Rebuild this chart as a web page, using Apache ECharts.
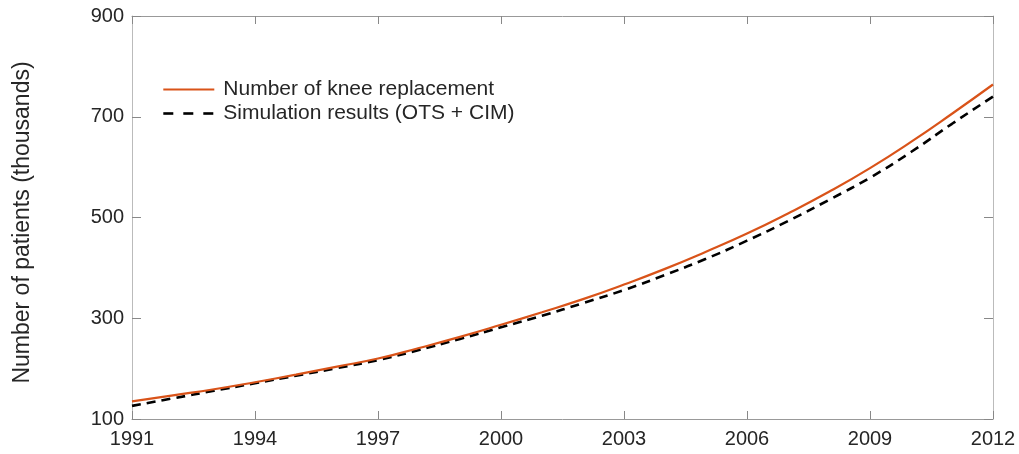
<!DOCTYPE html>
<html>
<head>
<meta charset="utf-8">
<script src="https://cdn.jsdelivr.net/npm/echarts@6/dist/echarts.min.js"></script>
<style>
html,body{margin:0;padding:0;background:#fff;}
#chart{width:1019px;height:454px;}
</style>
</head>
<body>
<div id="chart"></div>
<script>
const years = ['1991','1992','1993','1994','1995','1996','1997','1998','1999','2000','2001','2002','2003','2004','2005','2006','2007','2008','2009','2010','2011','2012'];
const kneeReplacement = [135,147,159,173,188,204,220,241,263,287,312,338,367,398,432,468,508,551,598,650,706,764];
const simulation = [126,141,156,171,186,201,217,237,259,282,305,330,356,386,418,454,493,535,579,630,686,740];
const yTicks = [100,300,500,700,900];
const seriesNames = ['Number of knee replacement','Simulation results (OTS + CIM)'];
const yName = 'Number of patients (thousands)';

const font = 'Liberation Sans, Arial, sans-serif';
const txt = '#262626';
const chart = echarts.init(document.getElementById('chart'));
const hAxisLine = {show:true, lineStyle:{color:'#999', width:1}};
const vAxisLine = {show:true, lineStyle:{color:'#bbb', width:1}};
chart.setOption({
  animation:false,
  backgroundColor:'#fff',
  grid:{left:132, right:26, top:16, bottom:35, containLabel:false},
  legend:{
    orient:'vertical', left:162, top:79, padding:0, itemWidth:51, itemHeight:14, itemGap:3,
    itemStyle:{opacity:0},
    textStyle:{fontFamily:font, fontSize:21, color:txt, padding:[0,0,0,4]},
    data:[
      {name:seriesNames[0]},
      {name:seriesNames[1], lineStyle:{type:[10,10], width:2.6}}
    ]
  },
  xAxis:[{
    type:'category', data:years, boundaryGap:false, position:'bottom',
    axisLine:hAxisLine,
    axisTick:{show:true, inside:true, length:8, interval:2, lineStyle:{color:'#888'}},
    axisLabel:{interval:2, margin:10, fontFamily:font, fontSize:20, color:txt},
    splitLine:{show:false}
  },{
    type:'category', data:years, boundaryGap:false, position:'top',
    axisLine:hAxisLine,
    axisTick:{show:true, inside:true, length:8, interval:2, lineStyle:{color:'#888'}},
    axisLabel:{show:false}, splitLine:{show:false}
  }],
  yAxis:[{
    type:'value', min:100, max:900, position:'left',
    name:yName, nameLocation:'middle', nameGap:98,
    nameTextStyle:{fontFamily:font, fontSize:23, color:txt, padding:[0,10,0,0]},
    axisLine:vAxisLine,
    axisTick:{show:true, inside:true, length:9, customValues:yTicks, lineStyle:{color:'#888'}},
    axisLabel:{customValues:yTicks, margin:8, fontFamily:font, fontSize:20, color:txt},
    splitLine:{show:false}
  },{
    type:'value', min:100, max:900, position:'right',
    axisLine:vAxisLine,
    axisTick:{show:true, inside:true, length:9, customValues:yTicks, lineStyle:{color:'#888'}},
    axisLabel:{show:false}, splitLine:{show:false}
  }],
  series:[{
    name:seriesNames[0], type:'line', data:kneeReplacement, smooth:true, symbol:'none',
    lineStyle:{color:'#D95319', width:2.2}, itemStyle:{color:'#D95319'}, z:3
  },{
    name:seriesNames[1], type:'line', data:simulation, smooth:true, symbol:'none',
    lineStyle:{color:'#000', width:2.6, type:[9,6]}, itemStyle:{color:'#000'}, z:2
  }]
});
</script>
</body>
</html>
